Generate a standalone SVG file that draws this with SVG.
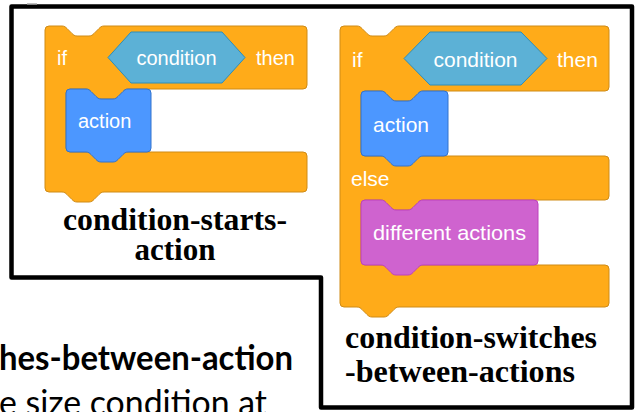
<svg xmlns="http://www.w3.org/2000/svg" width="642" height="412" viewBox="0 0 642 412">
<style>
.ctl{fill:#ffab19;stroke:#cf8b17;stroke-width:1}
.mot{fill:#4c97ff;stroke:#3373cc;stroke-width:1}
.pur{fill:#cf63cf;stroke:#bd42bd;stroke-width:1}
.hex{fill:#5cb1d6;stroke:#2e8eb8;stroke-width:1}
.bt{font-family:"Liberation Sans",Arial,sans-serif;fill:#ffffff}
.lbl{font-family:"Liberation Serif","Times New Roman",serif;font-weight:bold;font-size:32px;fill:#000}
.cal{font-family:Lato,"Open Sans",sans-serif;font-size:35px;fill:#000}
</style>
<rect width="642" height="412" fill="#ffffff"/>
<g id="background-text">
<text class="cal" x="-1" y="370" font-weight="bold" textLength="294" lengthAdjust="spacingAndGlyphs">hes-between-action</text>
<text class="cal" x="-1" y="415" textLength="268" lengthAdjust="spacingAndGlyphs">e size condition at</text>
</g>
<g id="frame">
<path d="M11.5,6.5 H632 V407.5 H321 V277.5 H11.5 Z" fill="none" stroke="#000" stroke-width="4.5" stroke-linejoin="round"/>
<path d="M27,4.2 H37" stroke="#8a8a8a" stroke-width="1.5"/>
</g>
<g id="condition-starts-action">
<path class="ctl" d="M45,30 a4,4 0 0 1 4,-4 H62 c2.5,0 3.7,1.2 5,2.5 l5,5 c1.2,1.2 2.5,2.5 5,2.5 h12 c2.5,0 3.7,-1.2 5,-2.5 l5,-5 c1.2,-1.2 2.5,-2.5 5,-2.5 H303 a4,4 0 0 1 4,4 V85 a4,4 0 0 1 -4,4 H128 c-2.5,0 -3.7,1.2 -5,2.5 l-5,5 c-1.2,1.2 -2.5,2.5 -5,2.5 h-12 c-2.5,0 -3.7,-1.2 -5,-2.5 l-5,-5 c-1.2,-1.2 -2.5,-2.5 -5,-2.5 H70 a4,4 0 0 0 -4,4 V148 a4,4 0 0 0 4,4 H303 a4,4 0 0 1 4,4 V188 a4,4 0 0 1 -4,4 H104 c-2.5,0 -3.7,1.2 -5,2.5 l-5,5 c-1.2,1.2 -2.5,2.5 -5,2.5 h-12 c-2.5,0 -3.7,-1.2 -5,-2.5 l-5,-5 c-1.2,-1.2 -2.5,-2.5 -5,-2.5 H49 a4,4 0 0 1 -4,-4 Z"/>
<path class="hex" d="M108,57.5 L131,32 H222 L245,57.5 L222,83 H131 Z"/>
<path class="mot" d="M66,93 a4,4 0 0 1 4,-4 H86 c2.5,0 3.7,1.2 5,2.5 l5,5 c1.2,1.2 2.5,2.5 5,2.5 h12 c2.5,0 3.7,-1.2 5,-2.5 l5,-5 c1.2,-1.2 2.5,-2.5 5,-2.5 H147 a4,4 0 0 1 4,4 V148 a4,4 0 0 1 -4,4 H128 c-2.5,0 -3.7,1.2 -5,2.5 l-5,5 c-1.2,1.2 -2.5,2.5 -5,2.5 h-12 c-2.5,0 -3.7,-1.2 -5,-2.5 l-5,-5 c-1.2,-1.2 -2.5,-2.5 -5,-2.5 H70 a4,4 0 0 1 -4,-4 Z"/>
<text class="bt" x="57" y="65" font-size="20">if</text>
<text class="bt" x="176.5" y="65" font-size="20" text-anchor="middle">condition</text>
<text class="bt" x="256" y="65" font-size="20">then</text>
<text class="bt" x="78" y="128" font-size="20">action</text>
<text class="lbl" x="175" y="230" text-anchor="middle" textLength="224" lengthAdjust="spacingAndGlyphs">condition-starts-</text>
<text class="lbl" x="175" y="260" text-anchor="middle" textLength="81" lengthAdjust="spacingAndGlyphs">action</text>
</g>
<g id="condition-switches-between-actions">
<path class="ctl" d="M340,30 a4,4 0 0 1 4,-4 H357 c2.5,0 3.7,1.2 5,2.5 l5,5 c1.2,1.2 2.5,2.5 5,2.5 h12 c2.5,0 3.7,-1.2 5,-2.5 l5,-5 c1.2,-1.2 2.5,-2.5 5,-2.5 H605 a4,4 0 0 1 4,4 V87 a4,4 0 0 1 -4,4 H423 c-2.5,0 -3.7,1.2 -5,2.5 l-5,5 c-1.2,1.2 -2.5,2.5 -5,2.5 h-12 c-2.5,0 -3.7,-1.2 -5,-2.5 l-5,-5 c-1.2,-1.2 -2.5,-2.5 -5,-2.5 H365 a4,4 0 0 0 -4,4 V152 a4,4 0 0 0 4,4 H605 a4,4 0 0 1 4,4 V196 a4,4 0 0 1 -4,4 H423 c-2.5,0 -3.7,1.2 -5,2.5 l-5,5 c-1.2,1.2 -2.5,2.5 -5,2.5 h-12 c-2.5,0 -3.7,-1.2 -5,-2.5 l-5,-5 c-1.2,-1.2 -2.5,-2.5 -5,-2.5 H365 a4,4 0 0 0 -4,4 V261 a4,4 0 0 0 4,4 H605 a4,4 0 0 1 4,4 V303 a4,4 0 0 1 -4,4 H399 c-2.5,0 -3.7,1.2 -5,2.5 l-5,5 c-1.2,1.2 -2.5,2.5 -5,2.5 h-12 c-2.5,0 -3.7,-1.2 -5,-2.5 l-5,-5 c-1.2,-1.2 -2.5,-2.5 -5,-2.5 H344 a4,4 0 0 1 -4,-4 Z"/>
<path class="hex" d="M404,58.5 L430,32 H521 L547,58.5 L521,85 H430 Z"/>
<path class="mot" d="M361,95 a4,4 0 0 1 4,-4 H381 c2.5,0 3.7,1.2 5,2.5 l5,5 c1.2,1.2 2.5,2.5 5,2.5 h12 c2.5,0 3.7,-1.2 5,-2.5 l5,-5 c1.2,-1.2 2.5,-2.5 5,-2.5 H444 a4,4 0 0 1 4,4 V152 a4,4 0 0 1 -4,4 H423 c-2.5,0 -3.7,1.2 -5,2.5 l-5,5 c-1.2,1.2 -2.5,2.5 -5,2.5 h-12 c-2.5,0 -3.7,-1.2 -5,-2.5 l-5,-5 c-1.2,-1.2 -2.5,-2.5 -5,-2.5 H365 a4,4 0 0 1 -4,-4 Z"/>
<path class="pur" d="M361,204 a4,4 0 0 1 4,-4 H381 c2.5,0 3.7,1.2 5,2.5 l5,5 c1.2,1.2 2.5,2.5 5,2.5 h12 c2.5,0 3.7,-1.2 5,-2.5 l5,-5 c1.2,-1.2 2.5,-2.5 5,-2.5 H534 a4,4 0 0 1 4,4 V261 a4,4 0 0 1 -4,4 H423 c-2.5,0 -3.7,1.2 -5,2.5 l-5,5 c-1.2,1.2 -2.5,2.5 -5,2.5 h-12 c-2.5,0 -3.7,-1.2 -5,-2.5 l-5,-5 c-1.2,-1.2 -2.5,-2.5 -5,-2.5 H365 a4,4 0 0 1 -4,-4 Z"/>
<text class="bt" x="352" y="67" font-size="21">if</text>
<text class="bt" x="475.5" y="67" font-size="21" text-anchor="middle">condition</text>
<text class="bt" x="557" y="67" font-size="21">then</text>
<text class="bt" x="373" y="132" font-size="21">action</text>
<text class="bt" x="351" y="186" font-size="21">else</text>
<text class="bt" x="373" y="240" font-size="21" textLength="153" lengthAdjust="spacingAndGlyphs">different actions</text>
<text class="lbl" x="345" y="348" textLength="252" lengthAdjust="spacingAndGlyphs">condition-switches</text>
<text class="lbl" x="345" y="381.5" textLength="230" lengthAdjust="spacingAndGlyphs">-between-actions</text>
</g>
</svg>
